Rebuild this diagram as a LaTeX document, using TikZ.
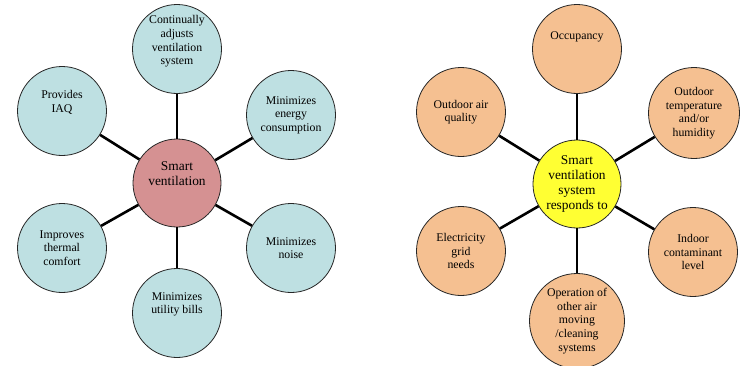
\documentclass[tikz,border=0pt]{standalone}
\usepackage{fontspec}
\setmainfont{Liberation Serif}
\definecolor{lblue}{RGB}{190,224,226}
\definecolor{lpink}{RGB}{213,145,146}
\definecolor{lorange}{RGB}{245,192,145}
\definecolor{lyellow}{RGB}{255,255,51}
\tikzset{
  bub/.style={circle,draw=black!85,line width=0.8pt,inner sep=0pt,align=center,
    font=\fontsize{11.8}{13.6}\selectfont,minimum size=#1},
  bub/.default=89pt,
  hub/.style={circle,draw=black!85,line width=0.8pt,inner sep=0pt,align=center,
    font=\fontsize{13.4}{15}\selectfont,minimum size=88pt},
  spoke/.style={line width=2.6pt,black}
}
\begin{document}
\begin{tikzpicture}[x=1pt,y=-1pt]
\useasboundingbox (0,0) rectangle (740,365);
\begin{scope}
\clip (0,0) rectangle (740,365);
% left diagram
\node[hub,fill=lpink] (cL) at (177,183) {Smart\\ventilation\\[4pt]};
\node[bub,fill=lblue] (L1) at (177,49) {Continually\\adjusts\\ventilation\\system\\[4pt]};
\node[bub,fill=lblue] (L2) at (62,111) {Provides\\IAQ\\[6pt]};
\node[bub,fill=lblue] (L3) at (291,115) {Minimizes\\energy\\consumption};
\node[bub,fill=lblue] (L4) at (62,248) {Improves\\thermal\\comfort};
\node[bub,fill=lblue] (L5) at (291,248) {Minimizes\\noise};
\node[bub,fill=lblue] (L6) at (177,313) {Minimizes\\utility bills\\[6pt]};
\foreach \n in {L1,L2,L3,L4,L5,L6} \draw[spoke] (cL) -- (\n);
% right diagram
\node[hub,fill=lyellow] (cR) at (577,184) {Smart\\ventilation\\system\\responds to};
\node[bub,fill=lorange] (R1) at (577,49) {Occupancy\\~\\~};
\node[bub,fill=lorange] (R2) at (461,112) {Outdoor air\\quality};
\node[bub=91pt,fill=lorange] (R3) at (694,113) {Outdoor\\temperature\\and/or\\humidity};
\node[bub,fill=lorange] (R4) at (461,251) {Electricity\\grid\\needs};
\node[bub,fill=lorange] (R5) at (693,252) {Indoor\\contaminant\\level};
\node[bub=95pt,fill=lorange] (R6) at (577,321) {Operation of\\other air\\moving\\/cleaning\\systems};
\foreach \n in {R1,R2,R3,R4,R5,R6} \draw[spoke] (cR) -- (\n);
\end{scope}
\end{tikzpicture}
\end{document}
